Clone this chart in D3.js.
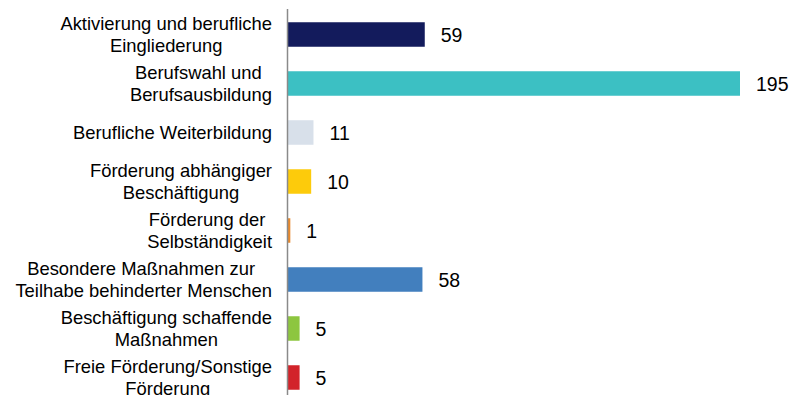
<!DOCTYPE html>
<html>
<head>
<meta charset="utf-8">
<script src="https://cdn.jsdelivr.net/npm/d3@7/dist/d3.min.js"></script>
<style>
  html, body { margin: 0; padding: 0; background: #fff; }
  svg { display: block; }
  text { font-family: "Liberation Sans", Arial, sans-serif; fill: #000; }
</style>
</head>
<body>
<script>
// Category labels, one array of lines per category
const categories = [
  ["Aktivierung und berufliche", "Eingliederung"],
  ["Berufswahl und ", "Berufsausbildung"],
  ["Berufliche Weiterbildung"],
  ["Förderung abhängiger", "Beschäftigung"],
  ["Förderung der ", "Selbständigkeit"],
  ["Besondere Maßnahmen zur ", "Teilhabe behinderter Menschen"],
  ["Beschäftigung schaffende", "Maßnahmen"],
  ["Freie Förderung/Sonstige", "Förderung"]
];
const values = [59, 195, 11, 10, 1, 58, 5, 5];
const colors = ["#131b5c", "#3cc0c3", "#d8e0ea", "#fdcb0b", "#e8892c", "#427fbe", "#8dc63f", "#d2232a"];

const W = 792, H = 395;
const svg = d3.select("body").append("svg").attr("width", W).attr("height", H);

const idx = d3.range(values.length);
const y = d3.scaleBand().domain(idx).range([10, 402]).paddingInner(0.5).paddingOuter(0.25);
const x = d3.scaleLinear().domain([0, 195]).range([288, 740]);

// Bars
svg.append("g").selectAll("rect").data(idx).join("rect")
  .attr("x", x(0))
  .attr("y", i => y(i))
  .attr("width", i => x(values[i]) - x(0))
  .attr("height", y.bandwidth())
  .attr("fill", i => colors[i]);

// Vertical category axis line
svg.append("line")
  .attr("x1", x(0) - 0.5).attr("x2", x(0) - 0.5)
  .attr("y1", 9).attr("y2", 402)
  .attr("stroke", "#8a8a8a").attr("stroke-width", 1.5);

// Value labels
svg.append("g").selectAll("text").data(idx).join("text")
  .attr("x", i => x(values[i]) + 16)
  .attr("y", i => y(i) + y.bandwidth() / 2 + 7)
  .attr("font-size", 19.5)
  .text(i => values[i]);

// Category labels: lines centred on each other, block right edge at 272
const lineH = 22, fs = 18.4, rightEdge = 272;
const labels = svg.append("g");
idx.forEach(i => {
  const lines = categories[i];
  const c = y(i) + y.bandwidth() / 2;
  const g = labels.append("g");
  const ts = lines.map((t, k) => g.append("text")
    .attr("font-size", fs)
    .attr("text-anchor", "middle")
    .attr("y", c + (k - (lines.length - 1) / 2) * lineH + 6.5)
    .attr("xml:space", "preserve")
    .style("white-space", "pre")
    .text(t));
  const maxW = d3.max(ts, t => t.node().getComputedTextLength());
  ts.forEach(t => t.attr("x", rightEdge - maxW / 2));
});
</script>
</body>
</html>
